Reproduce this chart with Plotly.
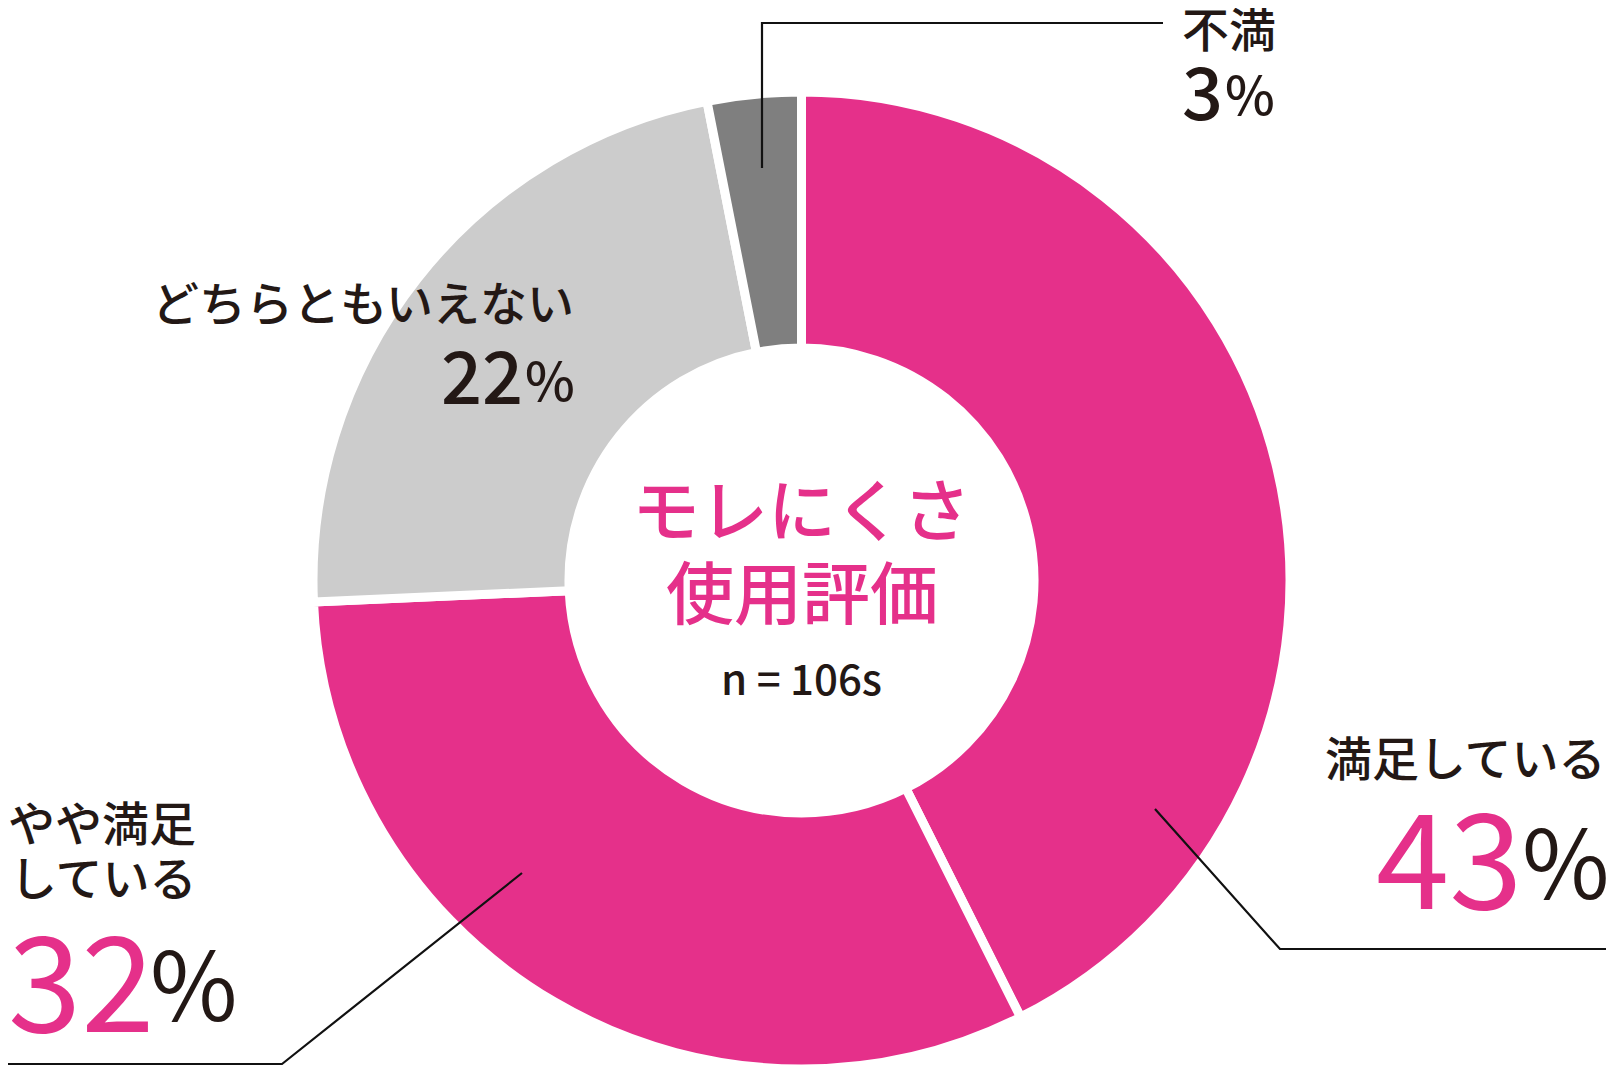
import plotly.graph_objects as go

# data
categories = ["満足している", "やや満足している", "どちらともいえない", "不満"]
shares = [42.6, 31.7, 22.6, 3.1]
pct_labels = ["43", "32", "22", "3"]
center_title = ["モレにくさ", "使用評価"]
sample_note = "n = 106s"

PINK = "#E5308A"
DARK = "#231815"
slice_colors = [PINK, PINK, "#CCCCCC", "#7F7F7F"]
FONT = "Noto Sans CJK JP"

# the page body keeps an 8px margin, so the figure is shrunk to fit the window
OFF = 8
W, H = 1614 - 2 * OFF, 1077 - 2 * OFF


def px(x):
    return (x - OFF) / W


def py(y):
    return (H - (y - OFF)) / H


# donut geometry (screen pixels)
cx, cy, R = 801.5, 580.5, 488.5

fig = go.Figure()
fig.add_trace(go.Pie(
    labels=categories,
    values=shares,
    sort=False,
    direction="clockwise",
    rotation=0,
    hole=0.476,
    marker=dict(colors=slice_colors, line=dict(color="white", width=9)),
    textinfo="none",
    hoverinfo="label+percent",
    showlegend=False,
    domain=dict(x=[px(cx - R), px(cx + R)], y=[max(0, py(cy + R)), py(cy - R)]),
))


def txt(s, x, y, size, color=DARK, xanchor="left", yanchor="middle", weight=500):
    fig.add_annotation(
        text=s, x=px(x), y=py(y), xref="paper", yref="paper",
        xanchor=xanchor, yanchor=yanchor, showarrow=False,
        font=dict(family=FONT, size=size, color=color, weight=weight),
        borderpad=0, borderwidth=0,
    )


# 満足している
txt(categories[0], 1606, 755, 47, xanchor="right")
txt(pct_labels[0], 1523, 852, 132, color=PINK, xanchor="right", weight=400)
txt("%", 1522, 857, 95, weight=400)

# やや満足している (two lines)
txt("やや満足", 8, 821, 47)
txt("している", 10, 875, 47)
txt(pct_labels[1], 8, 974, 132, color=PINK, weight=400)
txt("%", 150, 979, 95, weight=400)

# どちらともいえない
txt(categories[2], 574, 300, 47, xanchor="right")
txt(pct_labels[2], 523, 372, 72, xanchor="right")
txt("%", 525, 378, 53)

# 不満
txt(categories[3], 1182, 26, 47)
txt(pct_labels[3], 1182, 89, 72)
txt("%", 1225, 92, 53)

# centre text
txt(center_title[0], cx, 506, 68, color=PINK, xanchor="center")
txt(center_title[1], cx, 589, 68, color=PINK, xanchor="center")
txt(sample_note, cx, 676, 42, xanchor="center")

# leader lines
leaders = [
    [(1155, 809), (1280, 949), (1614, 949)],
    [(522, 873), (282, 1064), (0, 1064)],
    [(762, 168), (762, 23), (1163, 23)],
]
for pts in leaders:
    path = "M " + " L ".join(f"{px(x)},{py(y)}" for x, y in pts)
    fig.add_shape(type="path", path=path, xref="paper", yref="paper",
                  line=dict(color="#111111", width=2.2))

fig.update_layout(
    width=W, height=H,
    margin=dict(l=0, r=0, t=0, b=0),
    paper_bgcolor="white",
    plot_bgcolor="white",
)

fig.write_html("out.html")
